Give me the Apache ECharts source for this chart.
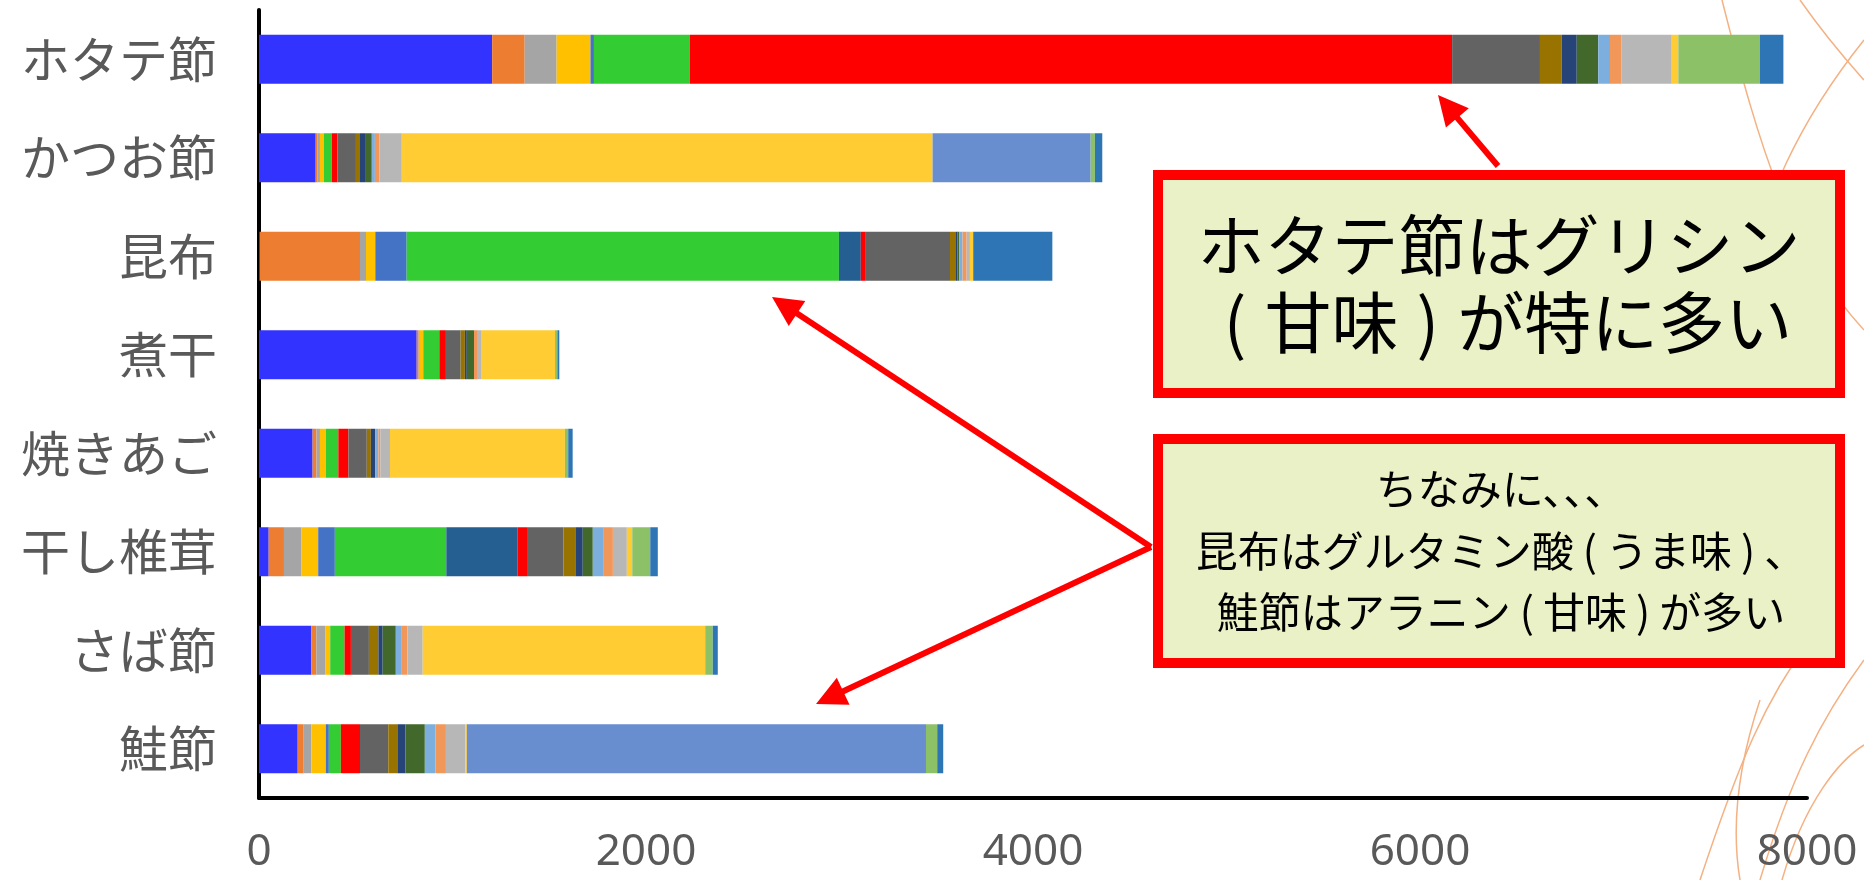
<!DOCTYPE html>
<html>
<head>
<meta charset="utf-8">
<script src="https://cdn.jsdelivr.net/npm/echarts@6/dist/echarts.min.js"></script>
<style>
html,body{margin:0;padding:0;background:#fff;}
#c{width:1864px;height:880px;}
</style>
</head>
<body>
<div id="c"></div>
<script>
// Categories (top to bottom)
const categories = ['ホタテ節','かつお節','昆布','煮干','焼きあご','干し椎茸','さば節','鮭節'];
// Component names (stack order, left to right)
const components = ['タウリン','アスパラギン酸','スレオニン','セリン','アスパラギン','グルタミン酸','グルタミン','グリシン','プロリン','バリン','メチオニン','イソロイシン','ロイシン','チロシン','フェニルアラニン','ヒスチジン','アラニン','リジン','アルギニン'];
const colors = ['#3333FF','#ED7D31','#A5A5A5','#FFC000','#4472C4','#33CC33','#255E91','#FF0000','#636363','#997300','#264478','#43682B','#7CAFDD','#F1975A','#B7B7B7','#FFCD33','#698ED0','#8CC168','#2E75B6'];
// Values per category (same order as components)
const hotate   = [1205,168,165,175,18,496,0,3939,454,112,78,111,61,60,259,34,0,422,121];
const katsuo   = [293,10,12,21,0,40,0,29,96,21,26,35,16,23,116,2743,817,22,38];
const kombu    = [5,517,31,48,162,2234,113,22,439,31,8,9,17,21,17,17,0,0,409];
const niboshi  = [815,10,6,18,0,83,0,34,76,22,10,37,0,20,20,379,0,12,10];
const yakiago  = [277,20,18,31,0,64,0,52,95,21,22,0,17,10,50,904,0,17,23];
const shiitake = [50,79,91,86,86,576,369,48,188,62,38,52,57,47,72,28,0,93,39];
const saba     = [270,26,48,24,0,74,0,33,93,49,22,68,31,29,79,1460,0,39,26];
const sake     = [200,31,40,74,16,62,0,99,146,47,42,100,55,54,100,8,2373,58,31];
const xTicks = [0,2000,4000,6000,8000];

const rows = [hotate,katsuo,kombu,niboshi,yakiago,shiitake,saba,sake];

const series = components.map((name,i)=>({
  name, type:'bar', stack:'total', barWidth:49,
  itemStyle:{color:colors[i]},
  emphasis:{disabled:true},
  data: rows.map(r=>r[i])
}));

function arrow(x1,y1,x2,y2){
  const dx=x2-x1, dy=y2-y1, L=Math.hypot(dx,dy), ux=dx/L, uy=dy/L;
  const hl=30, hw=15;
  const bx=x2-ux*hl, by=y2-uy*hl;
  return [
    {type:'line', z:100, shape:{x1,y1,x2:bx+ux*4,y2:by+uy*4}, style:{stroke:'#FF0000',lineWidth:6}},
    {type:'polygon', z:100, shape:{points:[[x2,y2],[bx-uy*hw,by+ux*hw],[bx+uy*hw,by-ux*hw]]}, style:{fill:'#FF0000'}}
  ];
}

const deco = [
  [[1722,0],[1760,150],[1790,250],[1864,330]],
  [[1864,40],[1800,120],[1762,200],[1742,300]],
  [[1760,880],[1790,780],[1820,720],[1864,660]],
  [[1782,880],[1805,800],[1840,760],[1864,745]],
  [[1700,880],[1740,760],[1765,700],[1810,640]],
  [[1800,0],[1828,40],[1848,62],[1864,80]],
  [[1740,880],[1730,820],[1740,760],[1760,700]]
].map(p=>({type:'bezierCurve', z:-1, shape:{x1:p[0][0],y1:p[0][1],cpx1:p[1][0],cpy1:p[1][1],cpx2:p[2][0],cpy2:p[2][1],x2:p[3][0],y2:p[3][1]}, style:{stroke:'#F4B183',lineWidth:1.5,fill:null}}));

const jp = '"Noto Sans CJK JP","Noto Sans",sans-serif';

function richText(x,y,text,size,pad){
  return {type:'text', z:101, style:{x,y,text,fill:'#000',align:'center',verticalAlign:'middle',
    fontSize:size,fontFamily:jp,
    rich:{p:{fontSize:size,fontFamily:jp,fill:'#000',padding:[0,pad]}}}};
}

const graphic = [
  ...deco,
  {type:'rect', z:100, shape:{x:1158,y:175,width:682,height:218}, style:{fill:'#EBF1C6',stroke:'#FF0000',lineWidth:10}},
  richText(1499,246,'ホタテ節はグリシン',67,0),
  richText(1499,323,'{p|(}甘味{p|)}が特に多い',67,18),
  {type:'rect', z:100, shape:{x:1158,y:439,width:682,height:224}, style:{fill:'#EBF1C6',stroke:'#FF0000',lineWidth:10}},
  richText(1501,489,'ちなみに、、、',42,0),
  richText(1501,551,'昆布はグルタミン酸{p|(}うま味{p|)}、',42,9),
  richText(1501,612,'鮭節はアラニン{p|(}甘味{p|)}が多い',42,9),
  ...arrow(1498,166,1438,95),
  ...arrow(1151,547,772,297),
  ...arrow(1151,547,816,704)
];

const chart = echarts.init(document.getElementById('c'));
chart.setOption({
  animation:false,
  backgroundColor:'#fff',
  grid:{left:259,right:57,top:10,bottom:82,containLabel:false},
  xAxis:{
    type:'value', min:0, max:8000, interval:2000,
    axisLine:{show:true,lineStyle:{color:'#000',width:4}},
    axisTick:{show:false}, splitLine:{show:false},
    axisLabel:{color:'#595959',fontSize:44,margin:32,fontFamily:'"Noto Sans",sans-serif',
      formatter:v=>xTicks.includes(v)?String(v):''}
  },
  yAxis:{
    type:'category', data:categories, inverse:true,
    axisLine:{show:true,lineStyle:{color:'#000',width:4}},
    axisTick:{show:false},
    axisLabel:{color:'#595959',fontSize:49,margin:42,fontFamily:jp}
  },
  series,
  graphic
});
</script>
</body>
</html>
